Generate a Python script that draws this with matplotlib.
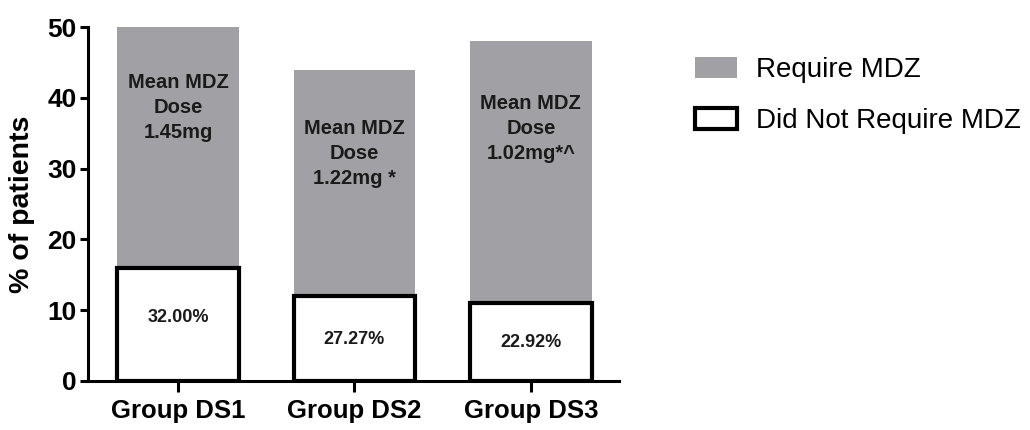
import matplotlib
matplotlib.use("Agg")
import matplotlib.pyplot as plt
import numpy as np

plt.rcParams['font.family'] = ['Liberation Sans', 'DejaVu Sans']

groups = ['Group DS1', 'Group DS2', 'Group DS3']
not_required = [16, 12, 11]
required = [34, 32, 37]
pct_labels = ['32.00%', '27.27%', '22.92%']
dose_labels = ['Mean MDZ\nDose\n1.45mg', 'Mean MDZ\nDose\n1.22mg *', 'Mean MDZ\nDose\n1.02mg*^']

gray = '#a1a0a4'
x = np.arange(len(groups))
w = 0.69

fig = plt.figure(figsize=(10.3, 4.3), dpi=100)
ax = fig.add_axes([0.0854, 0.114, 0.601 - 0.0854, 0.937 - 0.114])

ax.bar(x, required, w, bottom=not_required, color=gray, edgecolor='none', label='Require MDZ')
ax.bar(x, not_required, w, color='white', edgecolor='black', linewidth=3, label='Did Not Require MDZ')

# text inside bars
dose_y = [38.7, 32.2, 35.7]
pct_y = [9.0, 5.8, 5.4]
for i in range(len(groups)):
    ax.text(x[i], dose_y[i], dose_labels[i], ha='center', va='center', fontsize=14.5,
            fontweight='bold', linespacing=1.4, color='#1a1a1a')
    ax.text(x[i], pct_y[i], pct_labels[i], ha='center', va='center', fontsize=13,
            fontweight='bold', color='#1a1a1a')

ax.set_xlim(-0.51, 2.5)
ax.set_ylim(0, 50)
ax.set_yticks([0, 10, 20, 30, 40, 50])
ax.set_xticks(x)
ax.set_xticklabels(groups, fontsize=18.5, fontweight='bold')
ax.set_ylabel('% of patients', fontsize=20.5, fontweight='bold', labelpad=9)
for lab in ax.get_yticklabels():
    lab.set_fontweight('bold')
    lab.set_fontsize(19)

for s in ['top', 'right']:
    ax.spines[s].set_visible(False)
for s in ['left', 'bottom']:
    ax.spines[s].set_linewidth(2.2)
ax.tick_params(axis='y', length=6, width=2.2, pad=2)
ax.tick_params(axis='x', length=8, width=2.2, pad=5)

ax.legend(loc='upper left', bbox_to_anchor=(1.096, 0.987), frameon=False, fontsize=20,
          handlelength=1.5, handleheight=0.78, handletextpad=0.7, labelspacing=0.9)

fig.savefig('out.png', dpi=100)
